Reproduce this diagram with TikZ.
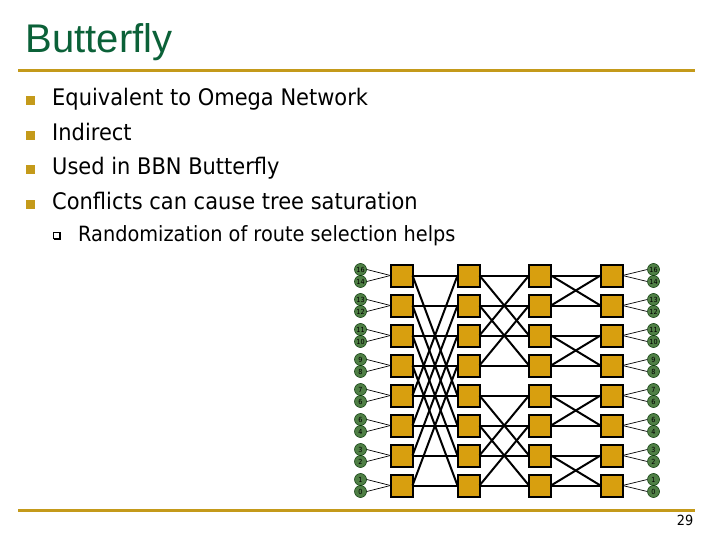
\documentclass[tikz,border=0pt]{standalone}
\usepackage{fontspec}
\setmainfont{DejaVu Sans}[FakeStretch=0.92]
\newfontfamily\titlefont{Liberation Sans}
\definecolor{titlegreen}{HTML}{0B6138}
\definecolor{rulegold}{HTML}{C49A1A}
\definecolor{boxgold}{HTML}{D89F0F}
\definecolor{termgreen}{HTML}{4F7F45}
\tikzset{
  swbox/.style={draw=black,line width=2pt,fill=boxgold,minimum width=22pt,minimum height=22pt,inner sep=0pt,outer sep=0pt},
  term/.style={circle,draw=black!80!green,line width=0.5pt,fill=termgreen,minimum size=12pt,inner sep=0pt,font=\fontsize{7}{7}\selectfont},
  wire/.style={line width=2pt,black},
  thinwire/.style={line width=0.7pt,black},
  bodytext/.style={anchor=base west,inner sep=0pt,font=\fontsize{22.8}{24}\selectfont},
  subtext/.style={anchor=base west,inner sep=0pt,font=\fontsize{21}{21}\selectfont},
  bulletsq/.style={fill=rulegold,minimum size=9pt,inner sep=0pt},
  rulebar/.style={line width=3pt,rulegold}
}
\begin{document}
\begin{tikzpicture}[x=1pt,y=-1pt]
\useasboundingbox (0,0) rectangle (720,540);
\fill[white] (0,0) rectangle (720,540);
\node[anchor=base west,inner sep=0pt,text=titlegreen,font=\titlefont\fontsize{40}{40}\selectfont] (title) at (25.5,53) {Butterfly};
\coordinate (ra) at (18,71); \coordinate (rb) at (695,71);
\coordinate (rc) at (18,510); \coordinate (rd) at (695,510);
\draw[rulebar] (ra) -- (rb);
\draw[rulebar] (rc) -- (rd);
\foreach \y/\t [count=\i] in {97/Equivalent to Omega Network,132/Indirect,166/Used in BBN Butterfly,201/Conflicts can cause tree saturation}{
  \node[bulletsq] (b\i) at (30.5,\y+3.5) {};
  \node[bodytext] (t\i) at (52,\y+9) {\t};
}
\node[draw=black,line width=0.5pt,minimum size=6pt,inner sep=0pt] (sb) at (56,235) {};
\draw[line width=0.9pt] (sb.south west)++(1,0.7) -- ++(6.5,0) -- ++(0,-6.5);
\node[subtext] (st) at (78,241) {Randomization of route selection helps};
\node[anchor=base east,inner sep=0pt,font=\fontsize{14}{14}\selectfont] (pg) at (693.5,525) {29};
% switches
\foreach \r/\yy in {0/275.5,1/305.5,2/335.5,3/365.5,4/395.5,5/425.5,6/455.5,7/485.5}{
  \node[swbox] (A\r) at (401.5,\yy) {};
  \node[swbox] (B\r) at (468.5,\yy) {};
  \node[swbox] (C\r) at (540,\yy) {};
  \node[swbox] (D\r) at (611.5,\yy) {};
}
% terminals
\foreach \r/\a/\b in {0/16/14,1/13/12,2/11/10,3/9/8,4/7/6,5/6/4,6/3/2,7/1/0}{
  \path (A\r.west) ++(-30,-6) node[term] (La\r) {\a};
  \path (A\r.west) ++(-30,6) node[term] (Lb\r) {\b};
  \path (D\r.east) ++(31,-6) node[term] (Ra\r) {\a};
  \path (D\r.east) ++(31,6) node[term] (Rb\r) {\b};
  \draw[thinwire] (La\r.east) -- (A\r.west);
  \draw[thinwire] (Lb\r.east) -- (A\r.west);
  \draw[thinwire] (Ra\r.west) -- (D\r.east);
  \draw[thinwire] (Rb\r.west) -- (D\r.east);
}
% stage wiring
\foreach \r in {0,...,7}{
  \draw[wire] (A\r.east) -- (B\r.west);
  \draw[wire] (B\r.east) -- (C\r.west);
  \draw[wire] (C\r.east) -- (D\r.west);
}
\foreach \p/\q in {0/4,1/5,2/6,3/7}{
  \draw[wire] (A\p.east) -- (B\q.west);
  \draw[wire] (A\q.east) -- (B\p.west);
}
\foreach \p/\q in {0/2,1/3,4/6,5/7}{
  \draw[wire] (B\p.east) -- (C\q.west);
  \draw[wire] (B\q.east) -- (C\p.west);
}
\foreach \p/\q in {0/1,2/3,4/5,6/7}{
  \draw[wire] (C\p.east) -- (D\q.west);
  \draw[wire] (C\q.east) -- (D\p.west);
}
\end{tikzpicture}
\end{document}
